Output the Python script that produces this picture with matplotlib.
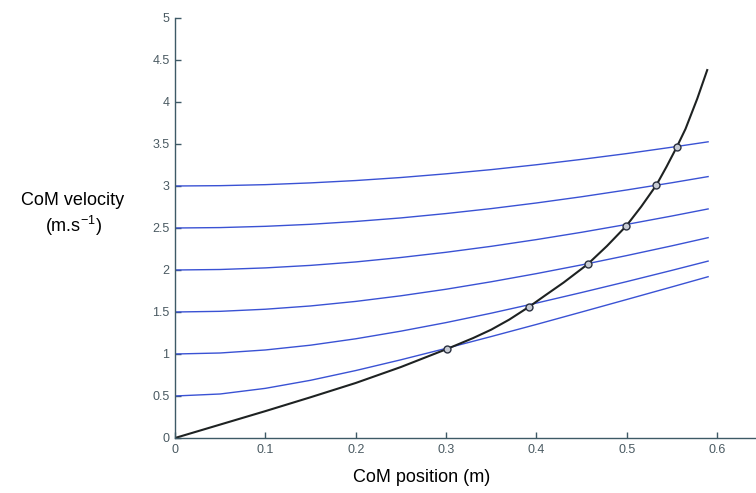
import matplotlib
matplotlib.use("Agg")
import matplotlib.pyplot as plt

# Blue curves: CoM velocity vs position for different initial velocities
x_blue = [0, 0.05, 0.1, 0.15, 0.2, 0.25, 0.3, 0.35, 0.4, 0.45, 0.5, 0.55, 0.59]
v_05 = [0.5, 0.524, 0.591, 0.687, 0.803, 0.931, 1.067, 1.208, 1.352, 1.500, 1.649, 1.799, 1.920]
v_10 = [1.0, 1.012, 1.048, 1.105, 1.181, 1.272, 1.374, 1.486, 1.606, 1.732, 1.862, 1.996, 2.106]
v_15 = [1.5, 1.508, 1.533, 1.572, 1.626, 1.693, 1.771, 1.860, 1.957, 2.061, 2.172, 2.288, 2.385]
v_20 = [2.0, 2.006, 2.025, 2.055, 2.096, 2.149, 2.211, 2.282, 2.362, 2.449, 2.543, 2.643, 2.727]
v_25 = [2.5, 2.505, 2.520, 2.544, 2.578, 2.620, 2.672, 2.731, 2.798, 2.872, 2.953, 3.039, 3.112]
v_30 = [3.0, 3.004, 3.016, 3.037, 3.065, 3.101, 3.145, 3.195, 3.253, 3.317, 3.386, 3.462, 3.526]
blue_series = [v_05, v_10, v_15, v_20, v_25, v_30]

# Black curve
x_black = [0, 0.05, 0.1, 0.15, 0.2, 0.25, 0.301, 0.33, 0.35, 0.37, 0.392, 0.41, 0.43,
           0.4566, 0.478, 0.4994, 0.516, 0.5327, 0.544, 0.5556, 0.565, 0.578, 0.589]
v_black = [0, 0.16, 0.32, 0.485, 0.655, 0.845, 1.06, 1.19, 1.29, 1.41, 1.563, 1.70, 1.85,
           2.068, 2.285, 2.524, 2.755, 3.01, 3.23, 3.47, 3.68, 4.04, 4.38]

# Intersection markers
x_marks = [0.301, 0.392, 0.4566, 0.4994, 0.5327, 0.5556]
v_marks = [1.06, 1.563, 2.068, 2.524, 3.01, 3.47]

x_ticks = [0, 0.1, 0.2, 0.3, 0.4, 0.5, 0.6]
x_ticklabels = ["0", "0.1", "0.2", "0.3", "0.4", "0.5", "0.6"]
y_ticks = [0, 0.5, 1, 1.5, 2, 2.5, 3, 3.5, 4, 4.5, 5]
y_ticklabels = ["0", "0.5", "1", "1.5", "2", "2.5", "3", "3.5", "4", "4.5", "5"]

plt.rcParams['font.family'] = ['Liberation Sans', 'DejaVu Sans']

fig = plt.figure(figsize=(7.56, 4.93), dpi=100)
ax = fig.add_axes([175/756, 55/493, 581/756, 420/493])

for v in blue_series:
    ax.plot(x_blue, v, color='#3a52d4', lw=1.0)
ax.plot(x_black, v_black, color='#1e2222', lw=1.5)
ax.plot(x_marks, v_marks, linestyle='none', marker='o', ms=5,
        mfc='#c8ccd4', mec='#2a3040', mew=1.0)

ax.set_xlim(0, 0.643)
ax.set_ylim(0, 5)
ax.set_xticks(x_ticks)
ax.set_xticklabels(x_ticklabels)
ax.set_yticks(y_ticks)
ax.set_yticklabels(y_ticklabels)

spine_col = '#3e5a66'
for s in ['top', 'right']:
    ax.spines[s].set_visible(False)
for s in ['left', 'bottom']:
    ax.spines[s].set_color(spine_col)
    ax.spines[s].set_linewidth(1.0)
ax.tick_params(direction='in', length=4, width=1.0, color=spine_col,
               labelsize=9, labelcolor='#4a5a62', pad=4)

fig.text(422/756, 1 - 477/493, "CoM position (m)", ha='center', va='center',
         fontsize=13, color='black')
fig.text(73/756, 1 - 215/493, "CoM velocity\n(m.s$^{\\mathregular{-1}}$)", ha='center', va='center',
         fontsize=13, color='black', linespacing=1.3)

fig.savefig("out.png", dpi=100)
